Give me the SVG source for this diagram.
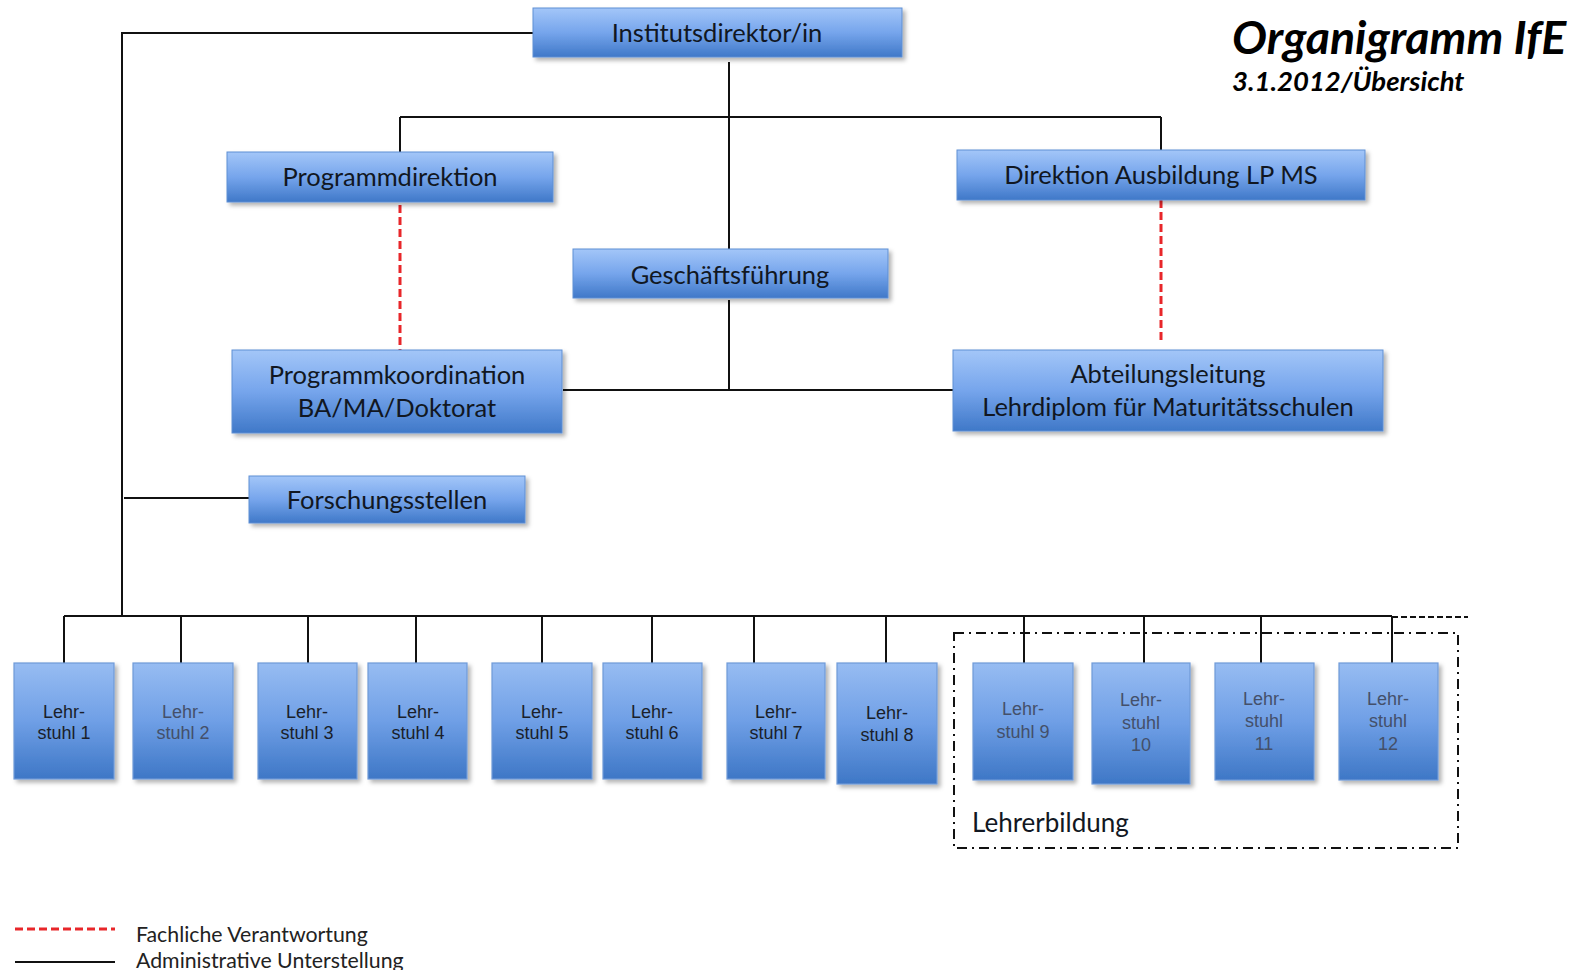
<svg xmlns="http://www.w3.org/2000/svg" width="1587" height="970" viewBox="0 0 1587 970">
<style>
.box{fill:url(#g);stroke:#5f8fd3;stroke-width:1;filter:url(#sh)}
.lbox{fill:url(#g2);stroke:#6f9ad8;stroke-width:1.2;filter:url(#sh)}
.t{font-family:Lato,"Open Sans",sans-serif;font-size:25.5px;fill:#111722;text-anchor:middle}
.l{font-family:"Liberation Sans",Arial,sans-serif;font-size:18px;fill:#1a1f2a;text-anchor:middle}
.lg{fill:#44506a}
.ln{stroke:#111;stroke-width:2;fill:none}
.red{stroke:#e8262a;stroke-width:3;stroke-dasharray:8 4;fill:none}
</style>
<defs>
<linearGradient id="g" x1="0" y1="0" x2="0" y2="1">
<stop offset="0" stop-color="#a3c6f8"/>
<stop offset="0.5" stop-color="#76a5ec"/>
<stop offset="1" stop-color="#3f78c8"/>
</linearGradient>
<linearGradient id="g2" x1="0" y1="0" x2="0" y2="1">
<stop offset="0" stop-color="#97bcf2"/>
<stop offset="0.5" stop-color="#6f9fe6"/>
<stop offset="1" stop-color="#3e77c6"/>
</linearGradient>
<filter id="sh" x="-10%" y="-10%" width="125%" height="135%">
<feDropShadow dx="3" dy="3" stdDeviation="2" flood-color="#000" flood-opacity="0.3"/>
</filter>
</defs>
<rect width="1587" height="970" fill="#fff"/>

<g id="connectors">
<path class="ln" d="M121 33H533M122 33V616M124 498H249"/>
<path class="ln" d="M729 62V249M729 300V391M400 117H1161M400 117V152M1161 117V150M563 390H953"/>
<path class="ln" d="M64 616H1392M64 616V663M181 616V663M308 616V663M416 616V663M542 616V663M652 616V663M754 616V663M886 616V663M1024 616V663M1144 616V663M1261 616V663M1392 616V663"/>
<path d="M1392 617H1468" stroke="#111" stroke-width="2" stroke-dasharray="6 3" fill="none"/>
<path class="red" d="M400 205V352"/>
<path class="red" d="M1161 200V342"/>
</g>

<g id="n-institutsdirektor"><rect class="box" x="533" y="8" width="369" height="49"/><text class="t" x="717" y="42">Institutsdirektor/in</text></g>
<g id="n-programmdirektion"><rect class="box" x="227" y="152" width="326" height="50"/><text class="t" x="390" y="186">Programmdirektion</text></g>
<g id="n-direktion"><rect class="box" x="957" y="150" width="408" height="50"/><text class="t" x="1161" y="184">Direktion Ausbildung LP MS</text></g>
<g id="n-geschaeftsfuehrung"><rect class="box" x="573" y="249" width="315" height="49"/><text class="t" x="730" y="284">Geschäftsführung</text></g>
<g id="n-programmkoordination"><rect class="box" x="232" y="350" width="330" height="83"/><text class="t" x="397" y="384">Programmkoordination</text><text class="t" x="397" y="417">BA/MA/Doktorat</text></g>
<g id="n-abteilungsleitung"><rect class="box" x="953" y="350" width="430" height="81"/><text class="t" x="1168" y="383">Abteilungsleitung</text><text class="t" x="1168" y="416">Lehrdiplom für Maturitätsschulen</text></g>
<g id="n-forschungsstellen"><rect class="box" x="249" y="476" width="276" height="47"/><text class="t" x="387" y="509">Forschungsstellen</text></g>

<g id="n-ls1"><rect class="lbox" x="14" y="663" width="100" height="116"/><text class="l" x="64" y="718">Lehr-</text><text class="l" x="64" y="739">stuhl 1</text></g>
<g id="n-ls2"><rect class="lbox" x="133" y="663" width="100" height="116"/><text class="l lg" x="183" y="718">Lehr-</text><text class="l lg" x="183" y="739">stuhl 2</text></g>
<g id="n-ls3"><rect class="lbox" x="258" y="663" width="99" height="116"/><text class="l" x="307" y="718">Lehr-</text><text class="l" x="307" y="739">stuhl 3</text></g>
<g id="n-ls4"><rect class="lbox" x="368" y="663" width="99" height="116"/><text class="l" x="418" y="718">Lehr-</text><text class="l" x="418" y="739">stuhl 4</text></g>
<g id="n-ls5"><rect class="lbox" x="492" y="663" width="100" height="116"/><text class="l" x="542" y="718">Lehr-</text><text class="l" x="542" y="739">stuhl 5</text></g>
<g id="n-ls6"><rect class="lbox" x="603" y="663" width="99" height="116"/><text class="l" x="652" y="718">Lehr-</text><text class="l" x="652" y="739">stuhl 6</text></g>
<g id="n-ls7"><rect class="lbox" x="727" y="663" width="98" height="116"/><text class="l" x="776" y="718">Lehr-</text><text class="l" x="776" y="739">stuhl 7</text></g>
<g id="n-ls8"><rect class="lbox" x="837" y="663" width="100" height="121"/><text class="l" x="887" y="719">Lehr-</text><text class="l" x="887" y="741">stuhl 8</text></g>
<g id="n-ls9"><rect class="lbox" x="973" y="663" width="100" height="117"/><text class="l lg" x="1023" y="715">Lehr-</text><text class="l lg" x="1023" y="738">stuhl 9</text></g>
<g id="n-ls10"><rect class="lbox" x="1092" y="663" width="98" height="121"/><text class="l lg" x="1141" y="706">Lehr-</text><text class="l lg" x="1141" y="729">stuhl</text><text class="l lg" x="1141" y="751">10</text></g>
<g id="n-ls11"><rect class="lbox" x="1215" y="663" width="99" height="117"/><text class="l lg" x="1264" y="705">Lehr-</text><text class="l lg" x="1264" y="727">stuhl</text><text class="l lg" x="1264" y="750">11</text></g>
<g id="n-ls12"><rect class="lbox" x="1339" y="663" width="99" height="117"/><text class="l lg" x="1388" y="705">Lehr-</text><text class="l lg" x="1388" y="727">stuhl</text><text class="l lg" x="1388" y="750">12</text></g>

<g id="lehrerbildung">
<rect x="954" y="633" width="504" height="215" fill="none" stroke="#111" stroke-width="2" stroke-dasharray="10 5 2 5"/>
<text x="972" y="832" font-family="Lato,'Open Sans',sans-serif" font-size="26" fill="#111722">Lehrerbildung</text>
</g>

<g id="title">
<text x="1232" y="54" font-family="Lato,'Open Sans',sans-serif" font-weight="700" font-style="italic" font-size="46.5" fill="#000">Organigramm IfE</text>
<text x="1232" y="91" font-family="Lato,'Open Sans',sans-serif" font-weight="700" font-style="italic" font-size="27.5" fill="#000">3.1.2012/Übersicht</text>
</g>

<g id="legend">
<path d="M15 929H115" stroke="#e8262a" stroke-width="3" stroke-dasharray="8 4" fill="none"/>
<path d="M15 962H115" stroke="#111" stroke-width="2" fill="none"/>
<text x="136" y="942" font-family="Lato,'Open Sans',sans-serif" font-size="21.3" fill="#222">Fachliche Verantwortung</text>
<text x="136" y="968" font-family="Lato,'Open Sans',sans-serif" font-size="21.3" fill="#222">Administrative Unterstellung</text>
</g>
</svg>
